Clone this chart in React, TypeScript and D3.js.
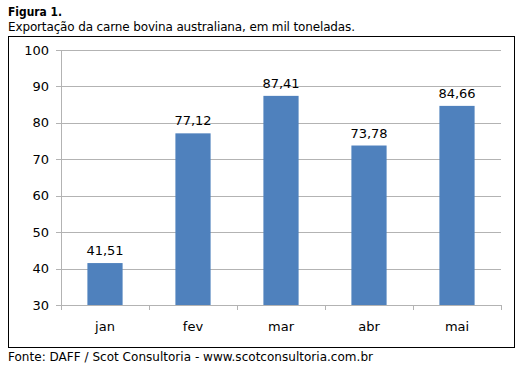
import React from "react";
import * as d3 from "d3";

const months = ["jan", "fev", "mar", "abr", "mai"];
const values = [41.51, 77.12, 87.41, 73.78, 84.66];
const yTicks = [30, 40, 50, 60, 70, 80, 90, 100];

const W = 522;
const H = 367;
const font = "Tahoma, 'DejaVu Sans', Verdana, sans-serif";

export default function App() {
  const plot = { left: 61, right: 501, top: 50, bottom: 305 };

  const x = d3
    .scaleBand<string>()
    .domain(months)
    .range([plot.left, plot.right])
    .paddingInner(0.6)
    .paddingOuter(0.3);

  const y = d3.scaleLinear().domain([30, 100]).range([plot.bottom, plot.top]);

  const fmt = (v: number) => v.toFixed(2).replace(".", ",");
  const band = (plot.right - plot.left) / months.length;

  return (
    <svg
      width={W}
      height={H}
      style={{ position: "absolute", left: 0, top: 0, background: "#fff" }}
      fontFamily={font}
    >
      <text x={8} y={16} fontSize={13} fontWeight="bold" fill="#000" textLength={54} lengthAdjust="spacingAndGlyphs">
        Figura 1.
      </text>
      <text x={8} y={31} fontSize={12} fill="#000" textLength={347} lengthAdjust="spacing">
        Exportação  da carne  bovina  australiana,  em mil toneladas.
      </text>

      {/* outer frame */}
      <rect x={8.5} y={36.5} width={506} height={311} fill="none" stroke="#000" strokeWidth={1} />

      {/* gridlines and y labels */}
      {yTicks.map((t) => (
        <g key={t}>
          <line
            x1={plot.left - 5}
            x2={plot.right}
            y1={Math.round(y(t)) + 0.5}
            y2={Math.round(y(t)) + 0.5}
            stroke="#b3b3b3"
          />
          <text
            x={plot.left - 12}
            y={y(t)}
            dy="0.35em"
            textAnchor="end"
            fontSize={13}
            fill="#000"
          >
            {t}
          </text>
        </g>
      ))}

      {/* axis lines */}
      <line x1={plot.left + 0.5} x2={plot.left + 0.5} y1={plot.top} y2={plot.bottom + 5} stroke="#b3b3b3" />
      {d3.range(months.length + 1).map((i) => (
        <line
          key={i}
          x1={Math.round(plot.left + i * band) + 0.5}
          x2={Math.round(plot.left + i * band) + 0.5}
          y1={plot.bottom}
          y2={plot.bottom + 5}
          stroke="#b3b3b3"
        />
      ))}

      {/* bars */}
      {months.map((m, i) => (
        <g key={m}>
          <rect
            x={x(m)}
            y={y(values[i])}
            width={x.bandwidth()}
            height={plot.bottom - y(values[i])}
            fill="#4F81BD"
          />
          <text
            x={(x(m) ?? 0) + x.bandwidth() / 2}
            y={y(values[i]) - 8}
            textAnchor="middle"
            fontSize={13}
            fill="#000"
          >
            {fmt(values[i])}
          </text>
          <text
            x={(x(m) ?? 0) + x.bandwidth() / 2}
            y={plot.bottom + 26}
            textAnchor="middle"
            fontSize={13}
            fill="#000"
          >
            {m}
          </text>
        </g>
      ))}

      <text x={8} y={361} fontSize={12} fill="#000" textLength={365} lengthAdjust="spacing">
        Fonte:  DAFF / Scot  Consultoria  - www.scotconsultoria.com.br
      </text>
    </svg>
  );
}
